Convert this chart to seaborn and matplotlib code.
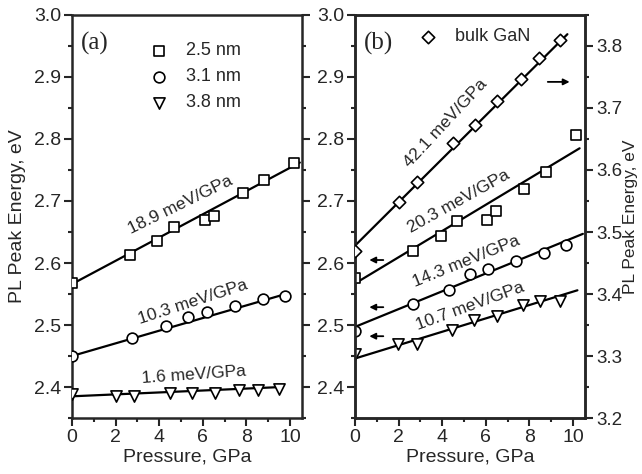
import numpy as np
import matplotlib
matplotlib.use("Agg")
import matplotlib.pyplot as plt
from matplotlib.ticker import MultipleLocator, FormatStrFormatter
import seaborn as sns

# panel (a): quantum wells, PL peak vs pressure
p_a_25 = [0, 2.66, 3.9, 4.7, 6.1, 6.5, 7.85, 8.8, 10.2]
e_a_25 = [2.568, 2.613, 2.636, 2.658, 2.669, 2.676, 2.713, 2.734, 2.761]
p_a_31 = [0, 2.74, 4.3, 5.34, 6.18, 7.48, 8.78, 9.77]
e_a_31 = [2.450, 2.479, 2.499, 2.513, 2.521, 2.531, 2.542, 2.547]
p_a_38 = [0, 2.0, 2.86, 4.5, 5.5, 6.56, 7.67, 8.55, 9.5]
e_a_38 = [2.388, 2.386, 2.386, 2.390, 2.391, 2.390, 2.395, 2.395, 2.397]

# fitted lines (a): end points
fit_a_x = {"2.5 nm": [0, 10.45], "3.1 nm": [0, 9.8], "3.8 nm": [0, 9.6]}
fit_a_y = {"2.5 nm": [2.566, 2.762], "3.1 nm": [2.450, 2.550], "3.8 nm": [2.385, 2.400]}

# panel (b)
p_b_25 = [0, 2.68, 3.94, 4.67, 6.06, 6.47, 7.77, 8.74, 10.15]
e_b_25 = [2.576, 2.620, 2.644, 2.668, 2.669, 2.684, 2.719, 2.747, 2.806]
p_b_31 = [0, 2.68, 4.29, 5.26, 6.1, 7.38, 8.67, 9.67]
e_b_31 = [2.491, 2.534, 2.556, 2.583, 2.590, 2.604, 2.616, 2.629]
p_b_38 = [0, 1.97, 2.83, 4.47, 5.45, 6.51, 7.7, 8.49, 9.42]
e_b_38 = [2.453, 2.469, 2.469, 2.492, 2.508, 2.514, 2.532, 2.539, 2.539]
p_bulk = [0, 2.0, 2.85, 4.5, 5.5, 6.51, 7.62, 8.45, 9.39]
e_bulk = [3.469, 3.548, 3.580, 3.643, 3.672, 3.711, 3.747, 3.781, 3.809]

fit_b_x = {"2.5 nm": [0, 10.3], "3.1 nm": [0, 10.45], "3.8 nm": [0, 10.2], "bulk": [0, 9.74]}
fit_b_y = {"2.5 nm": [2.567, 2.785], "3.1 nm": [2.497, 2.647], "3.8 nm": [2.446, 2.556],
           "bulk": [3.478, 3.819]}

slope_a = ["18.9 meV/GPa", "10.3 meV/GPa", "1.6 meV/GPa"]
slope_b = ["42.1 meV/GPa", "20.3 meV/GPa", "14.3 meV/GPa", "10.7 meV/GPa"]

SANS = ["Liberation Sans", "DejaVu Sans"]
SERIF = ["Liberation Serif", "DejaVu Serif"]

sns.set_style("ticks")
plt.rcParams["font.family"] = SANS
plt.rcParams["axes.linewidth"] = 1.8

fig = plt.figure(figsize=(6.42, 4.74), dpi=100)
ax_a = fig.add_axes([0.1121, 0.1181, 0.3583, 0.8503])
ax_b = fig.add_axes([0.553, 0.1181, 0.3583, 0.8503])
ax_r = ax_b.twinx()

mk = dict(facecolor="white", edgecolor="black", linewidth=1.2, zorder=3)
ln = dict(color="black", linewidth=1.6, zorder=2)


def draw(ax, px, py, fx, fy, marker, label=None, s=55):
    sns.lineplot(x=fx, y=fy, ax=ax, **ln)
    sns.scatterplot(x=px, y=py, ax=ax, marker=marker, s=s, label=label, **mk)


draw(ax_a, p_a_25, e_a_25, fit_a_x["2.5 nm"], fit_a_y["2.5 nm"], "s", "2.5 nm")
draw(ax_a, p_a_31, e_a_31, fit_a_x["3.1 nm"], fit_a_y["3.1 nm"], "o", "3.1 nm", 60)
draw(ax_a, p_a_38, e_a_38, fit_a_x["3.8 nm"], fit_a_y["3.8 nm"], "v", "3.8 nm", 65)

draw(ax_b, p_b_25, e_b_25, fit_b_x["2.5 nm"], fit_b_y["2.5 nm"], "s")
draw(ax_b, p_b_31, e_b_31, fit_b_x["3.1 nm"], fit_b_y["3.1 nm"], "o", s=60)
draw(ax_b, p_b_38, e_b_38, fit_b_x["3.8 nm"], fit_b_y["3.8 nm"], "v", s=65)
draw(ax_r, p_bulk, e_bulk, fit_b_x["bulk"], fit_b_y["bulk"], "D", "bulk GaN", 40)

for ax in (ax_a, ax_b):
    ax.set_xlim(0, 10.55)
    ax.set_ylim(2.35, 3.0)
    ax.xaxis.set_major_locator(MultipleLocator(2))
    ax.xaxis.set_minor_locator(MultipleLocator(1))
    ax.yaxis.set_major_locator(MultipleLocator(0.1))
    ax.yaxis.set_minor_locator(MultipleLocator(0.05))
    ax.yaxis.set_major_formatter(FormatStrFormatter("%.1f"))
    ax.set_xlabel("Pressure, GPa", fontsize=14, labelpad=2)
    ax.tick_params(which="major", direction="out", length=6, width=1.5, labelsize=14, pad=2)
    ax.tick_params(which="minor", direction="out", length=3, width=1.5)

ax_a.tick_params(axis="y", which="both", right=True, labelright=False)
ax_a.set_ylabel("PL Peak Energy, eV", fontsize=14)
ax_a.yaxis.set_label_coords(-0.2, 0.5)
ax_b.set_ylabel("")

ax_r.set_ylim(3.2, 3.85)
ax_r.yaxis.set_major_locator(MultipleLocator(0.1))
ax_r.yaxis.set_minor_locator(MultipleLocator(0.05))
ax_r.yaxis.set_major_formatter(FormatStrFormatter("%.1f"))
ax_r.tick_params(which="major", direction="out", length=6, width=1.5, labelsize=13.5, pad=2)
ax_r.tick_params(which="minor", direction="out", length=3, width=1.5)
ax_r.set_ylabel("PL Peak Energy, eV", fontsize=12.5)
ax_r.yaxis.set_label_coords(1.163, 0.5)

# legends
ax_a.legend(loc="upper left", bbox_to_anchor=(0.3, 0.95), frameon=False, fontsize=13,
            handletextpad=0.9, labelspacing=0.5, borderaxespad=0, handlelength=1.2)
ax_r.legend(loc="upper left", bbox_to_anchor=(0.24, 0.985), frameon=False, fontsize=13,
            handletextpad=0.9, borderaxespad=0, handlelength=1.2)

ax_a.text(0.04, 0.93, "(a)", transform=ax_a.transAxes, fontsize=18, va="center", family=SERIF)
ax_b.text(0.04, 0.93, "(b)", transform=ax_b.transAxes, fontsize=18, va="center", family=SERIF)

# slope labels
lbl = dict(fontsize=12.5, ha="center", va="center", rotation_mode="anchor", family=SANS)
for txt, x, y, rot in zip(slope_a, [4.95, 5.55, 5.6], [2.694, 2.537, 2.419], [26, 18, 4]):
    ax_a.text(x, y, txt, rotation=rot, **lbl)
for txt, x, y, rot in zip(slope_b, [4.14, 4.77, 5.09, 5.27], [2.826, 2.70, 2.602, 2.531],
                          [47, 29, 22, 20]):
    ax_b.text(x, y, txt, rotation=rot, **lbl)

# arrows showing which axis each set belongs to
arr = dict(arrowstyle="-|>", color="black", lw=1.3, mutation_scale=9)
ax_b.annotate("", xy=(0.945, 0.834), xytext=(0.826, 0.834), xycoords="axes fraction", arrowprops=arr)
for yf in [0.392, 0.275, 0.203]:
    ax_b.annotate("", xy=(0.05, yf), xytext=(0.135, yf), xycoords="axes fraction", arrowprops=arr)

for ax in (ax_a, ax_b, ax_r):
    for sp in ax.spines.values():
        sp.set_linewidth(1.8)

fig.savefig("out.png", dpi=100)
